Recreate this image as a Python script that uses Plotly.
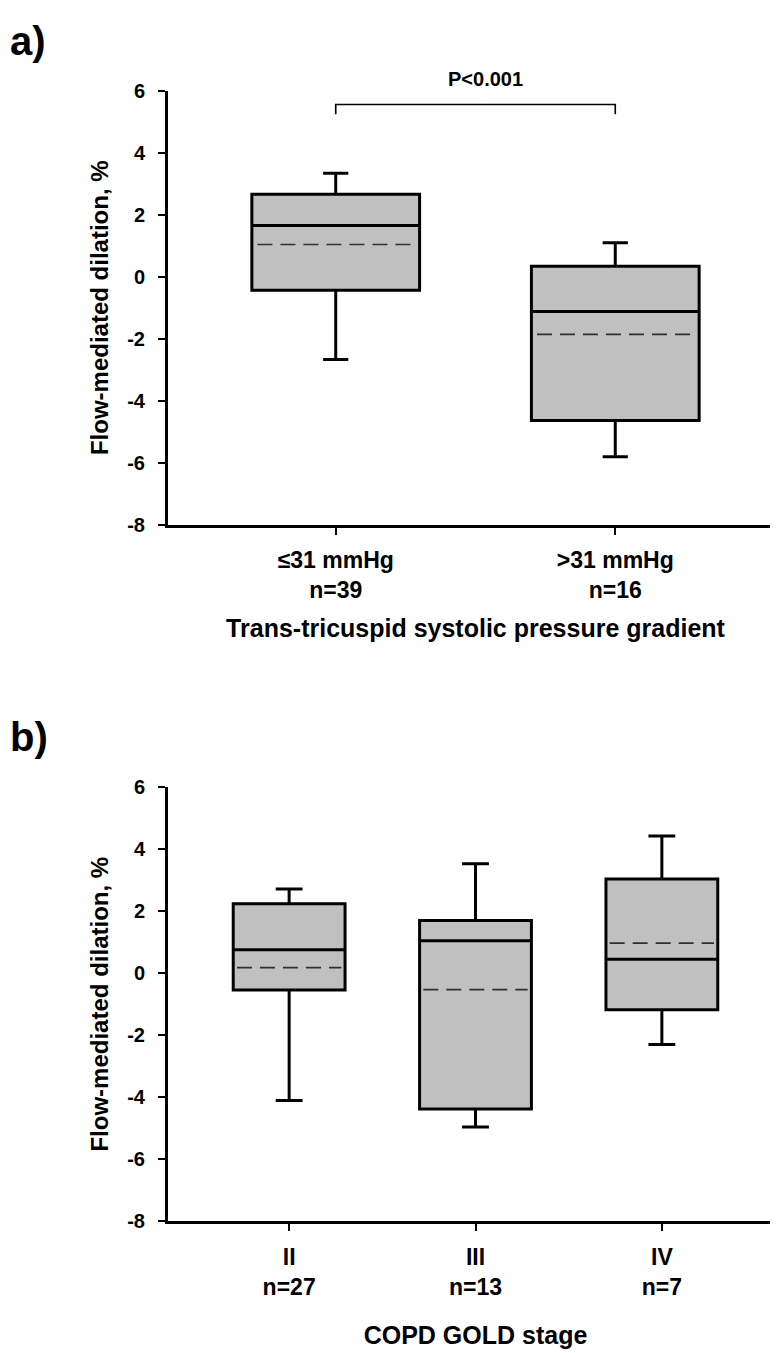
import plotly.graph_objects as go

# ---------------- data ----------------
# Panel a
a_categories = ["≤31 mmHg<br>n=39", ">31 mmHg<br>n=16"]
a_positions = [1, 2]
a_q1 = [-0.44, -4.64]
a_median = [1.65, -1.12]
a_q3 = [2.66, 0.34]
a_lower = [-2.67, -5.81]
a_upper = [3.34, 1.10]
a_mean = [1.04, -1.86]

# significance bracket (panel a)
sig_pair = [1, 2]
sig_top = 5.56
sig_tip = 5.24
sig_label = "P<0.001"
sig_label_x = 1.536

# Panel b
b_categories = ["II<br>n=27", "III<br>n=13", "IV<br>n=7"]
b_positions = [1, 2, 3]
b_q1 = [-0.54, -4.38, -1.18]
b_median = [0.76, 1.05, 0.45]
b_q3 = [2.24, 1.70, 3.04]
b_lower = [-4.11, -4.96, -2.30]
b_upper = [2.72, 3.53, 4.43]
b_mean = [0.18, -0.53, 0.97]

y_ticks = [-8, -6, -4, -2, 0, 2, 4, 6]
y_ticktext = [str(v) for v in y_ticks]
y_title = "Flow-mediated dilation, %"
a_x_title = "Trans-tricuspid systolic pressure gradient"
b_x_title = "COPD GOLD stage"

# ---------------- figure ----------------
W, H = 778, 1353
BOX_W = 0.6
FONT = "Liberation Sans, Arial, sans-serif"


def f(size):
    return dict(family=FONT, size=size, color="black", weight="bold")


fig = go.Figure()


def add_panel(pos, q1, med, q3, lo, hi, mean, xa, ya, whisker):
    fig.add_trace(go.Box(
        x=pos, q1=q1, median=med, q3=q3, lowerfence=lo, upperfence=hi,
        width=BOX_W, whiskerwidth=whisker, boxpoints=False,
        fillcolor="#c0c0c0", line=dict(color="black", width=3),
        xaxis=xa, yaxis=ya, hoverinfo="skip",
    ))
    mx, my = [], []
    for p, m in zip(pos, mean):
        mx += [p - BOX_W / 2 + 0.02, p + BOX_W / 2 - 0.02, None]
        my += [m, m, None]
    fig.add_trace(go.Scatter(
        x=mx, y=my, mode="lines",
        line=dict(color="#303030", width=1.6, dash="15px,8px"),
        xaxis=xa, yaxis=ya, hoverinfo="skip",
    ))


add_panel(a_positions, a_q1, a_median, a_q3, a_lower, a_upper, a_mean, "x", "y", 0.15)
add_panel(b_positions, b_q1, b_median, b_q3, b_lower, b_upper, b_mean, "x2", "y2", 0.24)

# significance bracket
fig.add_trace(go.Scatter(
    x=[sig_pair[0], sig_pair[0], sig_pair[1], sig_pair[1]],
    y=[sig_tip, sig_top, sig_top, sig_tip],
    mode="lines", line=dict(color="black", width=1.6),
    xaxis="x", yaxis="y", hoverinfo="skip", cliponaxis=False,
))

ax_common = dict(
    showline=True, linecolor="black", linewidth=3, mirror=False,
    ticks="outside", ticklen=7, tickwidth=2, tickcolor="black",
    showgrid=False, zeroline=False,
)

x_dom = [160 / W, 775 / W]
ya_dom = [1 - 514 / H, 1 - 73 / H]
yb_dom = [1 - 1222 / H, 1 - 781 / H]

yax = dict(ax_common, range=[-8, 6], tickmode="array", tickvals=y_ticks,
           ticktext=y_ticktext, tickfont=f(20), ticklabelstandoff=9,
           title=dict(text=y_title, standoff=12, font=f(24)))

fig.update_layout(
    width=W, height=H,
    margin=dict(l=0, r=0, t=0, b=0),
    paper_bgcolor="white", plot_bgcolor="white",
    showlegend=False,
    font=f(20),
    xaxis=dict(ax_common, domain=x_dom, anchor="y", range=[0.4, 2.6],
               tickmode="array", tickvals=a_positions, ticktext=a_categories,
               tickfont=f(23), ticklabelstandoff=6,
               title=dict(text=a_x_title, standoff=18, font=f(25))),
    yaxis=dict(yax, domain=ya_dom, anchor="x"),
    xaxis2=dict(ax_common, domain=x_dom, anchor="y2", range=[0.35, 3.65],
                tickmode="array", tickvals=b_positions, ticktext=b_categories,
                tickfont=f(23), ticklabelstandoff=6,
                title=dict(text=b_x_title, standoff=28, font=f(25))),
    yaxis2=dict(yax, domain=yb_dom, anchor="x2"),
)

fig.add_annotation(x=sig_label_x, y=sig_top, xref="x", yref="y", text=sig_label,
                   yanchor="bottom", yshift=12, showarrow=False, font=f(20))
fig.add_annotation(x=0, y=1 - 22 / H, xref="paper", yref="paper", text="a)",
                   xanchor="left", yanchor="middle", showarrow=False, font=f(40))
fig.add_annotation(x=0, y=1 - 730 / H, xref="paper", yref="paper", text="b)",
                   xanchor="left", yanchor="middle", showarrow=False, font=f(40))

fig.write_html("out.html")
